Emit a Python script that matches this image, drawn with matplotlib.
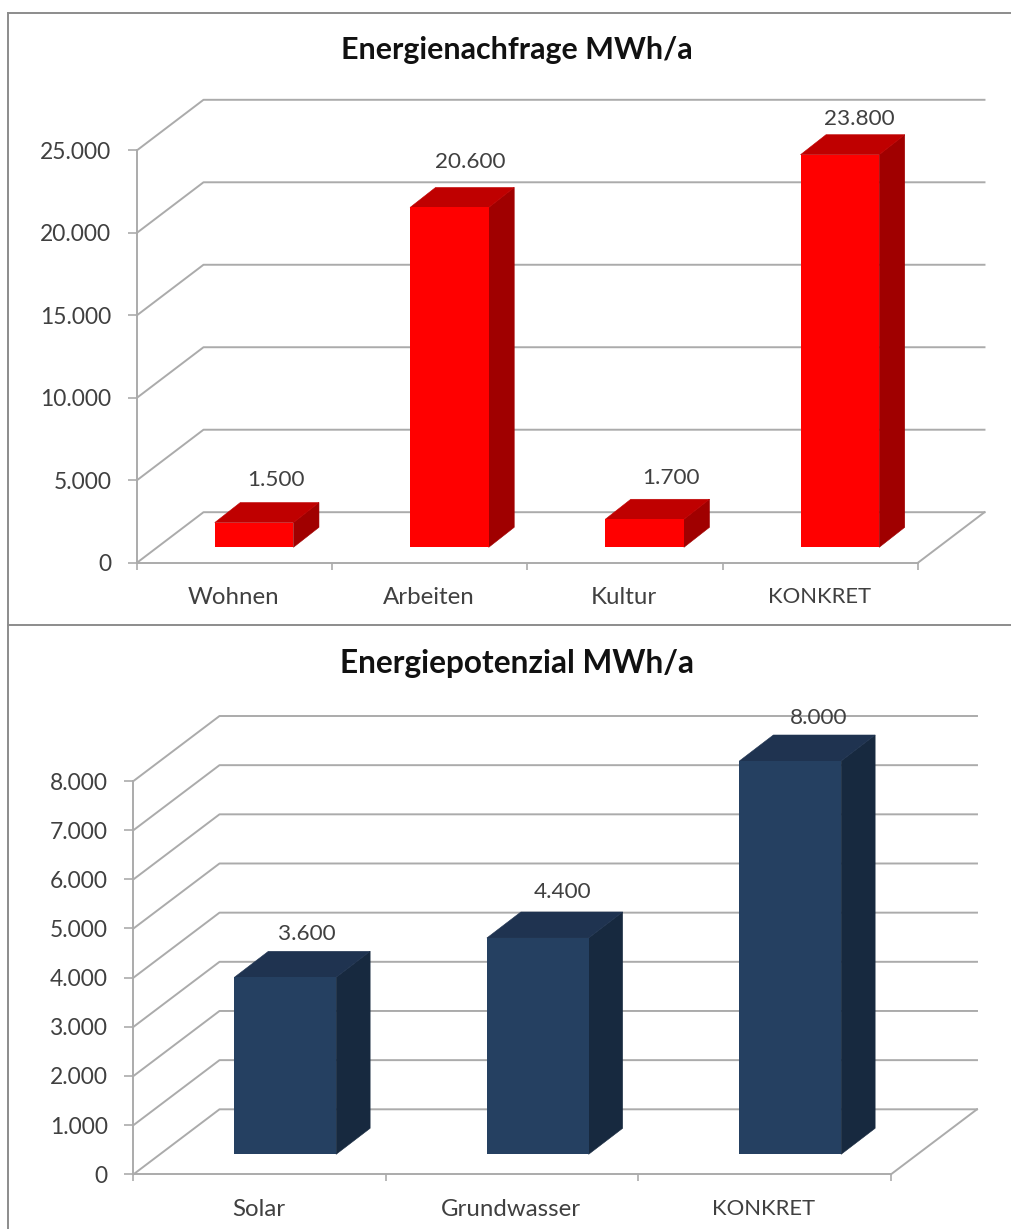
import matplotlib
matplotlib.use('Agg')
import matplotlib.pyplot as plt
from matplotlib.lines import Line2D

W, H = 1012, 1229

# chart data
demand_cats = ['Wohnen', 'Arbeiten', 'Kultur', 'KONKRET']
demand_vals = [1500, 20600, 1700, 23800]
demand_ticks = [0, 5000, 10000, 15000, 20000, 25000]

potential_cats = ['Solar', 'Grundwasser', 'KONKRET']
potential_vals = [3600, 4400, 8000]
potential_ticks = [0, 1000, 2000, 3000, 4000, 5000, 6000, 7000, 8000]

# small manual shifts of the value labels, in pixels
demand_nudge = [(22, 43), (21, 45), (26, 41), (19, 36)]
potential_nudge = [(22, 43), (25, 46), (28, 43)]

plt.rcParams['font.family'] = ['Lato', 'DejaVu Sans']

GRID = '#ababab'
TEXT = '#404040'


def fmt(v):
    return f'{v:,}'.replace(',', '.')


def chart(fig, box, cats, vals, ticks, nudge, title, title_xy, title_size, wall, bar_off, bar_depth, colors, label_y):
    left, right, y0, ytop = box
    ax = fig.add_axes([left / W, 1 - y0 / H, (right - left) / W, (y0 - ytop) / H])
    n = len(cats)
    ymax = ticks[-1]
    ax.set_xlim(0, n)
    ax.set_ylim(0, ymax)
    ax.patch.set_visible(False)

    # pixel -> data units
    xu = n / (right - left)
    yu = ymax / (y0 - ytop)

    for s in ['top', 'right']:
        ax.spines[s].set_visible(False)
    for s in ['left', 'bottom']:
        ax.spines[s].set_color(GRID)
        ax.spines[s].set_linewidth(1.4)

    ax.set_yticks(ticks)
    ax.set_yticklabels([fmt(t) for t in ticks], fontsize=16.4, color=TEXT)
    ax.set_xticks(range(n + 1))
    ax.set_xticklabels([])
    ax.tick_params(axis='y', length=6.5, width=1.2, color=GRID, pad=12)
    ax.tick_params(axis='x', length=5, width=1.2, color=GRID)

    # the capitals come out too wide at the size the lowercase needs
    for i, c in enumerate(cats):
        ax.text(i + 0.5 - 1 * xu, -(label_y - y0) * yu, c, ha='center', va='center',
                fontsize=15.8 if c.isupper() else 17.3, color=TEXT)

    # walls
    wx = wall[0] * xu
    wy = wall[1] * yu
    for t in ticks:
        ax.plot([0, wx, n + wx], [t, t + wy, t + wy], color=GRID, lw=1.4, clip_on=False, zorder=1)
    ax.plot([n, n + wx], [0, wy], color=GRID, lw=1.4, clip_on=False, zorder=1)

    # bars, front face first then the two visible sides
    ox = bar_off[0] * xu
    oy = bar_off[1] * yu
    dx = bar_depth[0] * xu
    dy = bar_depth[1] * yu
    bw = 0.403
    for i, v in enumerate(vals):
        x0 = i + 0.5 - bw / 2 + ox
        x1 = x0 + bw
        ax.fill([x1, x1 + dx, x1 + dx, x1], [oy, oy + dy, oy + v + dy, oy + v],
                facecolor=colors[1], edgecolor=colors[1], lw=0.4, clip_on=False, zorder=3)
        ax.fill([x0, x1, x1 + dx, x0 + dx], [oy + v, oy + v, oy + v + dy, oy + v + dy],
                facecolor=colors[2], edgecolor=colors[2], lw=0.4, clip_on=False, zorder=3)
        ax.bar(i + 0.5 + ox, v, bw, bottom=oy, color=colors[0], clip_on=False, zorder=3.5)
        ax.text(i + 0.5 + ox + nudge[i][0] * xu, oy + v + nudge[i][1] * yu, fmt(v),
                ha='center', va='center', fontsize=16.2, color=TEXT, zorder=4, clip_on=False)

    fig.text(title_xy[0] / W, 1 - title_xy[1] / H, title, ha='center', va='center',
             fontsize=title_size, fontweight='bold', color='#111111')
    return ax


fig = plt.figure(figsize=(W / 100, H / 100), dpi=100, facecolor='white')

chart(fig, (137, 918, 562.7, 150.3), demand_cats, demand_vals, demand_ticks, demand_nudge,
      'Energienachfrage MWh/a', (517, 50), 21.9, (66.5, 50.5), (19.5, 15.4), (25.5, 20),
      ('#ff0000', '#a00000', '#bf0000'), 597)
chart(fig, (133.5, 891, 1174.3, 781), potential_cats, potential_vals, potential_ticks, potential_nudge,
      'Energiepotenzial MWh/a', (517, 664), 22.8, (86, 65), (25.5, 20), (34, 26),
      ('#254061', '#17293f', '#1f3350'), 1209)

# frame around the two charts
for xs, ys in [([8, 8], [13, H]), ([8, W], [13, 13]), ([8, W], [625, 625])]:
    fig.add_artist(Line2D([x / W for x in xs], [1 - y / H for y in ys], color='#8c8c8c', lw=1.4))

fig.savefig('out.png', dpi=100)
